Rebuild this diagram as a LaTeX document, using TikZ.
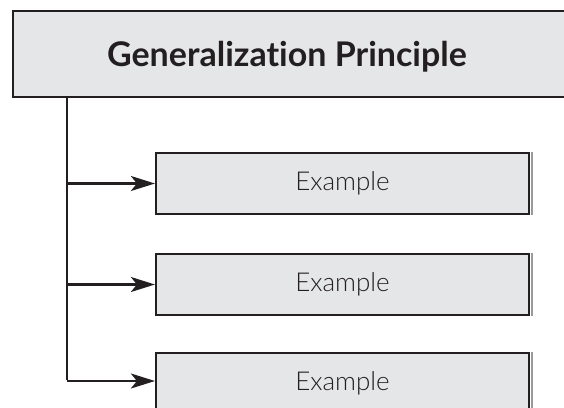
\documentclass[tikz,border=0pt]{standalone}
\usepackage{fontspec}
\setmainfont{Lato}[Ligatures=NoCommon]
\newfontfamily\lightfont{Lato Light}[Ligatures=NoCommon]
\usetikzlibrary{arrows.meta}
\definecolor{boxfill}{HTML}{E5E6E8}
\definecolor{ink}{HTML}{231F20}
\definecolor{edgegray}{HTML}{9A9A9C}
\tikzset{
  x=1pt, y=-1pt,
  headbox/.style={draw=ink, line width=2.2pt, fill=boxfill, minimum width=560pt, minimum height=86pt, inner sep=0pt},
  title/.style={font=\fontsize{34}{40}\selectfont\bfseries, text=ink},
  exbox/.style={draw=ink, line width=2.2pt, fill=boxfill, minimum width=373pt, minimum height=61pt, inner sep=0pt,
    font=\lightfont\fontsize{26}{30}\selectfont, text=ink},
  link/.style={draw=ink, line width=2.2pt},
  tip/.style={link, -{Stealth[length=24pt, width=15pt, inset=6pt]}}
}
\begin{document}
\begin{tikzpicture}
\useasboundingbox (0,0) rectangle (564,407);
\clip (0,0) rectangle (564,407);
% heading box, running off the right-hand side
\node[headbox] (head) at (293,54) {};
\node[title] (headtext) at (287,57) {Generalization Principle};
% example boxes
\node[exbox] (ex1) at (342.5,183.5) {Example};
\node[exbox] (ex2) at (342.5,284.5) {Example};
\node[exbox] (ex3) at (342.5,383.5) {Example};
% light right-hand edges of the example boxes
\foreach \b in {ex1,ex2,ex3}
  \draw[edgegray, line width=1.2pt] ([xshift=1.9pt]\b.north east) -- ([xshift=1.9pt]\b.south east);
% spine and branches
\coordinate (top) at (67,97);
\coordinate (j1) at (67,183.5);
\coordinate (j2) at (67,284.5);
\coordinate (j3) at (67,381);
\draw[link] (top) -- ([yshift=1.1pt]j3);
\draw[tip] (j1) -- (ex1.west);
\draw[tip] (j2) -- (ex2.west);
\draw[tip] (j3) -- (j3 -| ex3.west);
\end{tikzpicture}
\end{document}
